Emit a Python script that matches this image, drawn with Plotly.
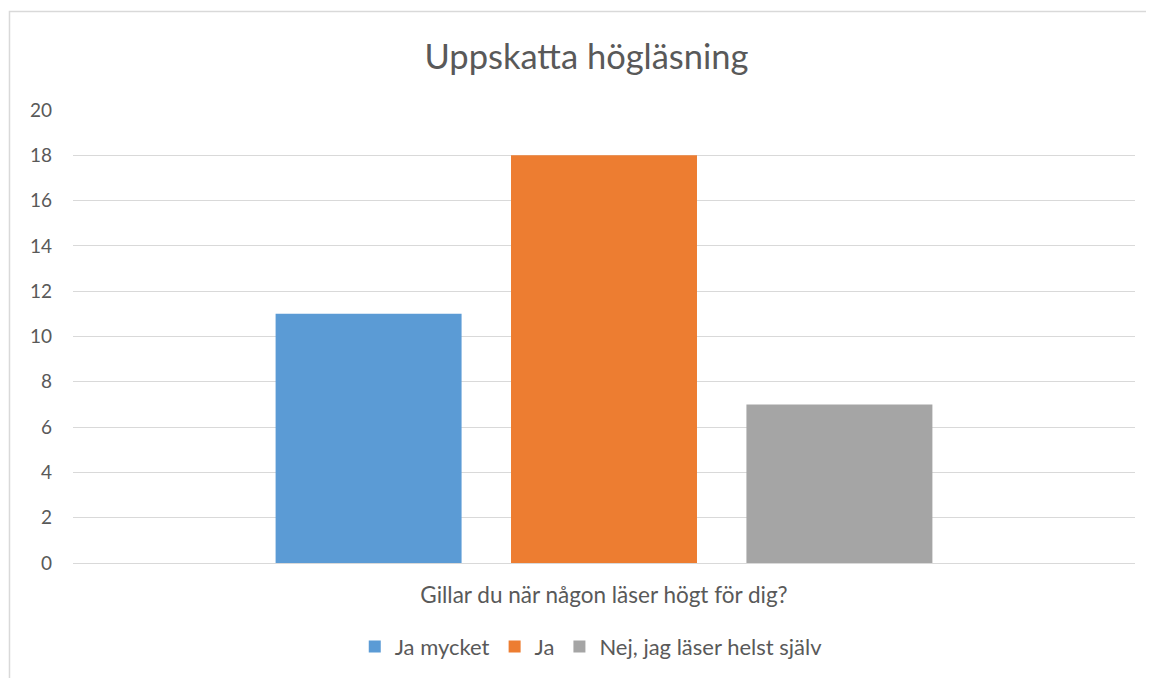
import plotly.graph_objects as go

CATEGORY = ["Gillar du när någon läser högt för dig?"]
SERIES = ["Ja mycket", "Ja", "Nej, jag läser helst själv"]
VALUES = [11, 18, 7]
COLORS = ["#5B9BD5", "#ED7D31", "#A5A5A5"]
TEXT = "#595959"
FONT = "Lato, Liberation Sans, sans-serif"

# the page body adds an 8px offset, so margins are shifted to compensate
fig = go.Figure()
for name, val, color in zip(SERIES, VALUES, COLORS):
    fig.add_trace(go.Bar(x=CATEGORY, y=[val], name=name, marker=dict(color=color, line=dict(width=0))))

fig.update_layout(
    width=1154,
    height=678,
    paper_bgcolor="white",
    plot_bgcolor="white",
    barmode="group",
    bargap=0.335,
    bargroupgap=0.21,
    margin=dict(l=65, r=27, t=102, b=123),
    font=dict(family=FONT, color=TEXT, size=18),
    title=dict(text="Uppskatta högläsning", x=578.5 / 1154, xref="container", xanchor="center",
               y=1 - 49 / 678, yref="container", yanchor="middle", font=dict(size=34.5, color=TEXT)),
    legend=dict(orientation="h", x=0.488, xanchor="center", xref="paper",
                y=-0.185, yanchor="middle", font=dict(size=22, color=TEXT),
                itemclick=False),
    showlegend=True,
    shapes=[dict(type="rect", xref="paper", yref="paper", x0=-0.0598, x1=1.1, y0=-0.5, y1=1.2174,
                 line=dict(color="#D9D9D9", width=1.5), layer="below")],
)
fig.update_yaxes(range=[0, 20], dtick=2, showgrid=True, gridcolor="#D9D9D9", gridwidth=1,
                 zeroline=False, showline=False, ticklabelstandoff=20,
                 tickfont=dict(size=19, color=TEXT))
fig.update_xaxes(showgrid=False, showline=True, linecolor="#D9D9D9", linewidth=1,
                 ticklabelstandoff=12, tickfont=dict(size=22.5, color=TEXT))

fig.write_html("out.html")
